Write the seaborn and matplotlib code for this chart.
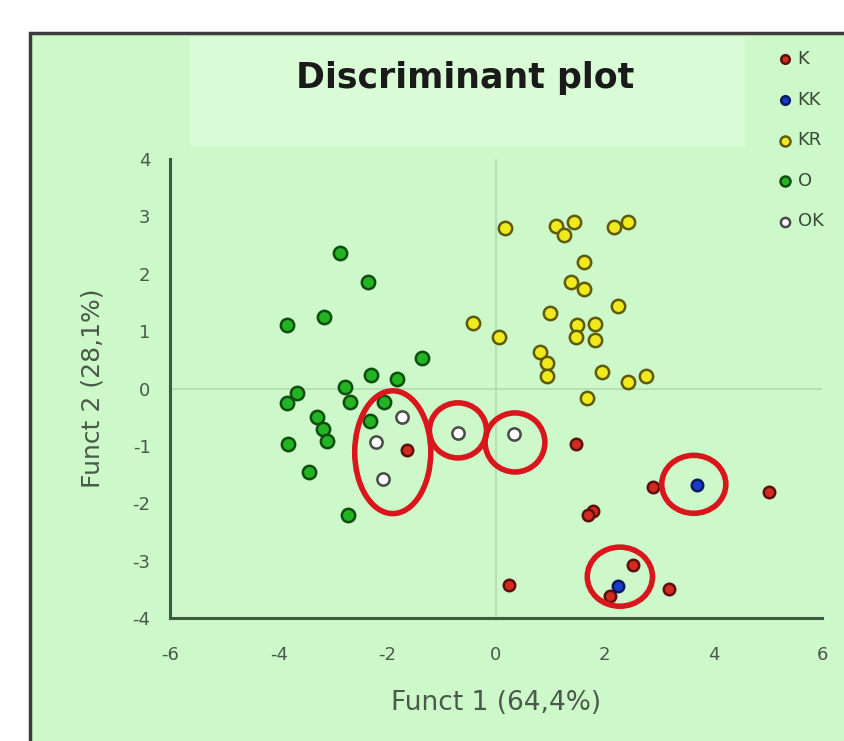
import matplotlib
matplotlib.use("Agg")
import matplotlib.pyplot as plt
from matplotlib.patches import Ellipse, Rectangle
import pandas as pd
import seaborn as sns

sns.set_style("white")
plt.rcParams["font.family"] = ["DejaVu Sans"]
plt.rcParams["axes.unicode_minus"] = False

# -------------------------------------------------------------
# DATA
# -------------------------------------------------------------
k_x = [-1.64, 1.47, 2.89, 5.02, 1.79, 1.69, 2.52, 0.24, 3.18, 2.10]
k_y = [-1.08, -0.96, -1.72, -1.81, -2.14, -2.20, -3.08, -3.43, -3.50, -3.62]

kk_x = [3.70, 2.25]
kk_y = [-1.69, -3.45]

kr_x = [0.17, 1.10, 1.44, 1.25, 2.17, 2.43, 1.62, 1.38, 1.62, 2.25, -0.42, 0.99,
        0.06, 1.49, 1.82, 1.47, 1.82, 0.81, 0.94, 0.94, 1.95, 2.43, 2.76, 1.67]
kr_y = [2.79, 2.84, 2.91, 2.67, 2.82, 2.91, 2.21, 1.86, 1.74, 1.43, 1.15, 1.32,
        0.89, 1.10, 1.13, 0.89, 0.84, 0.63, 0.44, 0.21, 0.28, 0.12, 0.21, -0.17]

o_x = [-2.87, -2.36, -3.85, -3.17, -1.36, -2.30, -1.82, -3.66, -3.85, -2.78,
       -2.69, -2.06, -3.29, -3.18, -3.11, -3.83, -2.32, -3.44, -2.72]
o_y = [2.37, 1.86, 1.11, 1.24, 0.54, 0.23, 0.16, -0.07, -0.26, 0.02,
       -0.23, -0.24, -0.49, -0.70, -0.92, -0.96, -0.57, -1.46, -2.20]

ok_x = [-1.73, -2.21, -2.08, -0.70, 0.33]
ok_y = [-0.49, -0.94, -1.57, -0.78, -0.80]

groups = ["K", "KK", "KR", "O", "OK"]

# red rings drawn around misclassified cases
ring_x = [-1.90, -0.70, 0.35, 3.64, 2.28]
ring_y = [-1.11, -0.73, -0.94, -1.67, -3.28]
ring_w = [1.40, 1.05, 1.10, 1.18, 1.20]
ring_h = [2.14, 0.96, 1.03, 1.01, 1.03]

df = pd.concat([
    pd.DataFrame({"f1": k_x, "f2": k_y, "group": "K"}),
    pd.DataFrame({"f1": kk_x, "f2": kk_y, "group": "KK"}),
    pd.DataFrame({"f1": kr_x, "f2": kr_y, "group": "KR"}),
    pd.DataFrame({"f1": o_x, "f2": o_y, "group": "O"}),
    pd.DataFrame({"f1": ok_x, "f2": ok_y, "group": "OK"}),
], ignore_index=True)

fill = {"K": "#d42a1e", "KK": "#1a3ad0", "KR": "#f0ea1c", "O": "#22b422", "OK": "#ffffff"}
edge = {"K": "#5a1010", "KK": "#0c1a5a", "KR": "#5e5a08", "O": "#0d4d0d", "OK": "#4a4a4a"}
size = {"K": 68, "KK": 68, "KR": 92, "O": 92, "OK": 78}

# -------------------------------------------------------------
# FIGURE
# -------------------------------------------------------------
bg = "#cdf8c9"
fig = plt.figure(figsize=(8.45, 7.41), dpi=100)
fig.patch.set_facecolor("white")

# outer chart frame and the lighter title box
fig.patches.append(Rectangle((30 / 845, -0.1), 1.2, (741 - 33) / 741 + 0.1,
                             transform=fig.transFigure, facecolor=bg,
                             edgecolor="#3c3c3c", lw=2.5, zorder=-3))
fig.patches.append(Rectangle((190 / 845, 1 - 146 / 741), (745 - 190) / 845, (146 - 37) / 741,
                             transform=fig.transFigure, facecolor="#d9fcd6",
                             edgecolor="none", zorder=-2))

ax = fig.add_axes([170 / 845, 1 - 618 / 741, 652 / 845, 459 / 741])
ax.set_facecolor("none")

ax.axvline(0, color="#b4deb0", lw=1.3, zorder=0)
ax.axhline(0, color="#b4deb0", lw=1.3, zorder=0)

for g in groups:
    sub = df[df["group"] == g]
    sns.scatterplot(data=sub, x="f1", y="f2", color=fill[g], edgecolor=edge[g],
                    linewidth=1.8, s=size[g], label=g, ax=ax, zorder=3)

for cx, cy, w, h in zip(ring_x, ring_y, ring_w, ring_h):
    ax.add_patch(Ellipse((cx, cy), w, h, facecolor="none", edgecolor="#d8161c",
                         lw=4, zorder=4))

ax.set_xlim(-6, 6)
ax.set_ylim(-4, 4)
ax.set_xticks(range(-6, 7, 2))
ax.set_yticks(range(-4, 5))

axis_col = "#3d5c3d"
for side in ["top", "right"]:
    ax.spines[side].set_visible(False)
for side in ["left", "bottom"]:
    ax.spines[side].set_color(axis_col)
    ax.spines[side].set_linewidth(2.2)

ax.tick_params(axis="x", direction="out", length=5, width=1.5, color=axis_col,
               pad=15, labelsize=13, labelcolor="#4a5a4a")
ax.tick_params(axis="y", direction="out", length=5, width=1.5, color=axis_col,
               pad=9, labelsize=13, labelcolor="#4a5a4a")

ax.set_xlabel("Funct 1 (64,4%)", fontsize=19, color="#4a5a4a", labelpad=19)
ax.set_ylabel("Funct 2 (28,1%)", fontsize=18, color="#4a5a4a", labelpad=20)

fig.text(465 / 845, 1 - 78 / 741, "Discriminant plot", ha="center", va="center",
         fontsize=25, fontweight="bold", color="#1a1a1a")

leg = ax.legend(loc="upper left", bbox_to_anchor=(767 / 845, 1 - 43 / 741),
                bbox_transform=fig.transFigure, frameon=False, fontsize=13,
                labelspacing=1.25, handletextpad=0.1, markerscale=0.75,
                borderaxespad=0, handlelength=1.2)
for t in leg.get_texts():
    t.set_color("#3a4a3a")

fig.savefig("out.png", dpi=100, facecolor="white")
